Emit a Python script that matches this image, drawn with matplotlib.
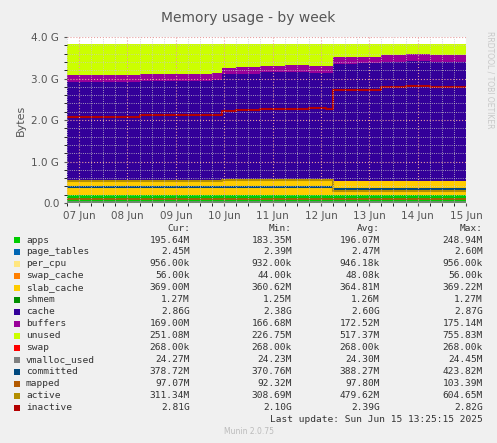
import numpy as np
import matplotlib.pyplot as plt
from matplotlib.patches import Rectangle

G = 1e9
# time axis in days of June, sampled every half day
t = [6.75, 7.25, 7.75, 8.25, 8.75, 9.25, 9.75, 9.95, 10.25, 10.75, 11.25, 11.75, 12.1, 12.25,
     12.75, 13.25, 13.75, 14.25, 14.75, 15.0]
apps =     [0.19, 0.19, 0.19, 0.19, 0.19, 0.19, 0.19, 0.19, 0.19, 0.19, 0.19, 0.19, 0.19, 0.19,
            0.19, 0.19, 0.19, 0.19, 0.19, 0.19]
page_tables = [0.0025]*20
per_cpu = [0.001]*20
swap_cache = [0.0001]*20
slab_cache = [0.33, 0.33, 0.33, 0.33, 0.33, 0.34, 0.36, 0.37, 0.37, 0.37, 0.37, 0.37, 0.37, 0.34,
              0.34, 0.34, 0.34, 0.34, 0.34, 0.34]
shmem = [0.0013]*20
cache = [2.40, 2.40, 2.40, 2.41, 2.41, 2.41, 2.40, 2.54, 2.55, 2.58, 2.59, 2.57, 2.57, 2.82,
         2.83, 2.86, 2.88, 2.87, 2.87, 2.87]
buffers = [0.16, 0.16, 0.17, 0.17, 0.17, 0.17, 0.17, 0.16, 0.16, 0.16, 0.16, 0.16, 0.16, 0.16,
           0.16, 0.17, 0.17, 0.17, 0.17, 0.17]
total = 3.82
committed = [0.378, 0.378, 0.378, 0.378, 0.378, 0.378, 0.378, 0.378, 0.378, 0.378, 0.378, 0.378, 0.378, 0.33,
             0.33, 0.33, 0.33, 0.33, 0.33, 0.33]
active = [0.52, 0.52, 0.52, 0.52, 0.52, 0.53, 0.54, 0.56, 0.56, 0.56, 0.56, 0.56, 0.56, 0.29,
          0.29, 0.29, 0.29, 0.29, 0.29, 0.29]
inactive = [2.08, 2.08, 2.08, 2.11, 2.11, 2.11, 2.11, 2.21, 2.24, 2.26, 2.26, 2.28, 2.26, 2.73,
            2.73, 2.80, 2.81, 2.80, 2.80, 2.80]
mapped = [0.097]*20
vmalloc = [0.024]*20

names = ["apps", "page_tables", "per_cpu", "swap_cache", "slab_cache", "shmem", "cache",
         "buffers", "unused", "swap", "vmalloc_used", "committed", "mapped", "active", "inactive"]
colors = ["#00CC00", "#0066B3", "#FFE680", "#FF8000", "#FFCC00", "#008F00", "#330099",
          "#990099", "#CCFF00", "#FF0000", "#808080", "#00487D", "#B35A00", "#B38F00", "#B30000"]
cur = ["195.64M", "2.45M", "956.00k", "56.00k", "369.00M", "1.27M", "2.86G", "169.00M", "251.08M",
       "268.00k", "24.27M", "378.72M", "97.07M", "311.34M", "2.81G"]
mn = ["183.35M", "2.39M", "932.00k", "44.00k", "360.62M", "1.25M", "2.38G", "166.68M", "226.75M",
      "268.00k", "24.23M", "370.76M", "92.32M", "308.69M", "2.10G"]
avg = ["196.07M", "2.47M", "946.18k", "48.08k", "364.81M", "1.26M", "2.60G", "172.52M", "517.37M",
       "268.00k", "24.30M", "388.27M", "97.80M", "479.62M", "2.39G"]
mx = ["248.94M", "2.60M", "956.00k", "56.00k", "369.22M", "1.27M", "2.87G", "175.14M", "755.83M",
      "268.00k", "24.45M", "423.82M", "103.39M", "604.65M", "2.82G"]

t = np.array(t)
layers = [np.array(a) for a in (apps, page_tables, per_cpu, swap_cache, slab_cache, shmem, cache, buffers)]
used = np.sum(layers, axis=0)
unused = total - used
layers.append(unused)

fig = plt.figure(figsize=(4.97, 4.43), dpi=100, facecolor="#F0F0F0")
ax = fig.add_axes([67/497, 1-203/443, 399/497, 166/443])
ax.set_facecolor("white")
ax.stackplot(t, [l*G for l in layers], colors=colors[:9], step="post", linewidth=0)
ax.step(t, np.array(vmalloc)*G, where="post", color=colors[10], lw=1.2)
ax.step(t, np.array(committed)*G, where="post", color=colors[11], lw=1.5)
ax.step(t, np.array(mapped)*G, where="post", color=colors[12], lw=1.2)
ax.step(t, np.array(active)*G, where="post", color=colors[13], lw=1.5)
ax.step(t, np.array(inactive)*G, where="post", color=colors[14], lw=1.5)
ax.set_xlim(6.75, 15.0)
ax.set_ylim(0, 4.0*G)
ax.set_yticks(np.arange(0, 4.1, 1.0)*G)
ax.set_yticklabels(["0.0", "1.0 G", "2.0 G", "3.0 G", "4.0 G"])
ax.set_xticks(np.arange(7, 16))
ax.set_xticklabels(["%02d Jun" % d for d in range(7, 16)])
ax.set_yticks(np.arange(0, 4.01, 0.2)*G, minor=True)
ax.set_xticks(np.arange(6.75, 15.01, 0.25), minor=True)
ax.grid(True, which="major", color="#E8A0A0", ls=":", lw=0.8)
ax.grid(True, which="minor", color="#C8C8C8", ls=":", lw=0.6)
ax.set_axisbelow(False)
ax.tick_params(labelsize=7.5, colors="#555555", length=2)
for s in ax.spines.values():
    s.set_visible(False)
ax.set_ylabel("Bytes", fontsize=8, color="#555555")
fig.text(0.5, 1-18/443, "Memory usage - by week", ha="center", va="center", fontsize=10, color="#555555")
fig.text(0.985, 0.82, "RRDTOOL / TOBI OETIKER", rotation=270, fontsize=5.5, color="#C8C8C8", ha="center", va="center")

mono = dict(family="DejaVu Sans Mono", fontsize=6.8, color="#333333")
y0 = 1-240/443
dy = 12.0/443
fig.text(190/497, y0+dy, "Cur:", ha="right", va="center", **mono)
fig.text(292/497, y0+dy, "Min:", ha="right", va="center", **mono)
fig.text(380/497, y0+dy, "Avg:", ha="right", va="center", **mono)
fig.text(483/497, y0+dy, "Max:", ha="right", va="center", **mono)
for i, n in enumerate(names):
    y = y0 - i*dy
    fig.patches.append(Rectangle((14/497, y-3/443), 6/497, 6/443, transform=fig.transFigure,
                                 facecolor=colors[i], edgecolor="none"))
    fig.text(26/497, y, n, va="center", **mono)
    fig.text(190/497, y, cur[i], ha="right", va="center", **mono)
    fig.text(292/497, y, mn[i], ha="right", va="center", **mono)
    fig.text(380/497, y, avg[i], ha="right", va="center", **mono)
    fig.text(483/497, y, mx[i], ha="right", va="center", **mono)
fig.text(483/497, y0 - 15*dy, "Last update: Sun Jun 15 13:25:15 2025", ha="right", va="center", **mono)
fig.text(0.5, 1-432/443, "Munin 2.0.75", ha="center", va="center", fontsize=5.5, color="#BBBBBB")

fig.savefig("out.png", dpi=100, facecolor=fig.get_facecolor())
